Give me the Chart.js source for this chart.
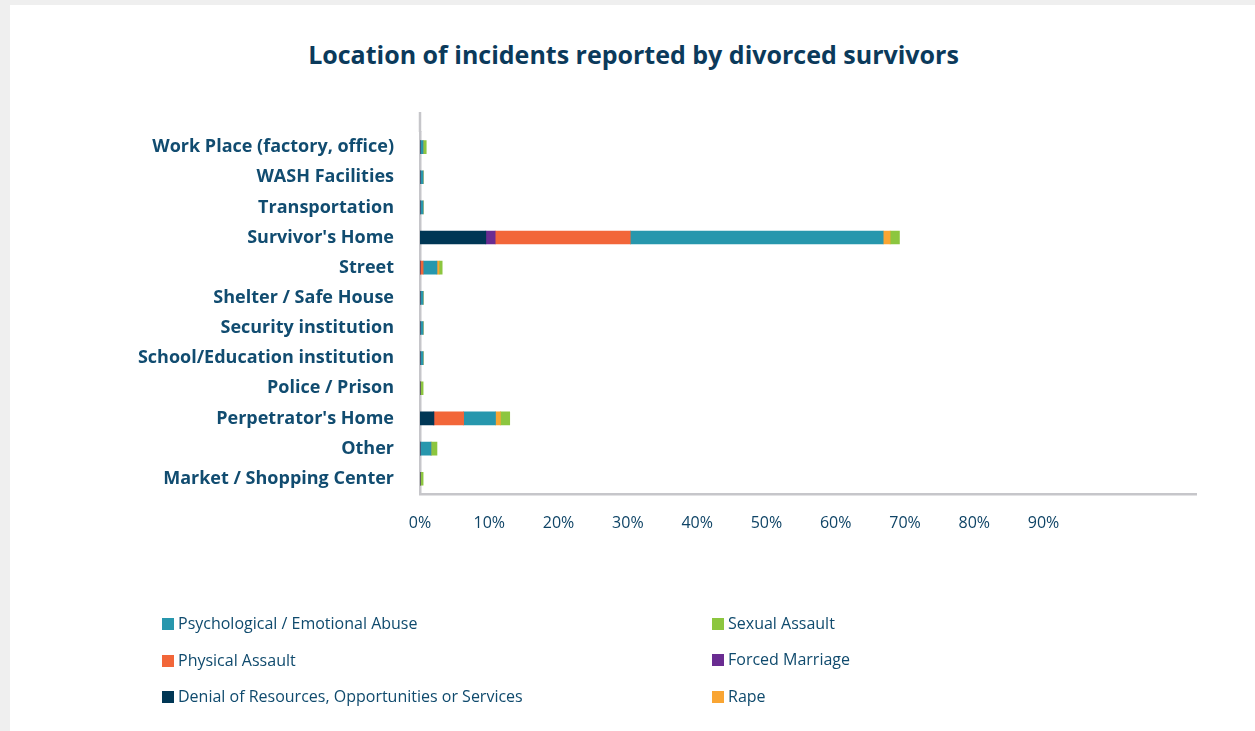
<!DOCTYPE html>
<html>
<head>
<meta charset="utf-8">
<script src="https://cdn.jsdelivr.net/npm/chart.js@4.4.1/dist/chart.umd.min.js"></script>
<style>
  html, body { margin: 0; padding: 0; background: #efefef; }
  #panel { position: absolute; left: 10px; top: 5px; width: 1245px; height: 726px; background: #fff; }
  #title { position: absolute; left: 6px; top: 37px; width: 1255px; text-align: center;
           font-family: "Open Sans", Lato, sans-serif; font-size: 25px; font-weight: bold; color: #0b3a5b;
           line-height: 34px; white-space: nowrap; }
  #wrap { position: absolute; left: 0; top: 0; width: 1255px; height: 560px; }
  #legend { position: absolute; left: 0; top: 0; width: 1255px; height: 731px; pointer-events: none;
            font-family: "Open Sans", Lato, sans-serif; font-size: 16px; color: #0f4a6d; }
  .item { position: absolute; height: 20px; line-height: 20px; white-space: nowrap; }
  .sq { display: inline-block; width: 12px; height: 12px; margin-right: 4px; vertical-align: -1px; }
</style>
</head>
<body>
<div id="panel"></div>
<div id="title">Location of incidents reported by divorced survivors</div>
<div id="wrap"><canvas id="myChart" width="1255" height="560"></canvas></div>
<div id="legend"></div>
<script>
// categories top to bottom
var categories = ["Work Place (factory, office)", "WASH Facilities", "Transportation", "Survivor's Home",
    "Street", "Shelter / Safe House", "Security institution", "School/Education institution",
    "Police / Prison", "Perpetrator's Home", "Other", "Market / Shopping Center"];

// percent of incidents, per type of violence
var denial   = [0, 0, 0, 9.5, 0, 0, 0, 0, 0, 2.0, 0, 0];
var forced   = [0, 0, 0, 1.35, 0, 0, 0, 0, 0, 0, 0, 0];
var physical = [0, 0, 0, 19.5, 0.45, 0, 0, 0, 0, 4.3, 0, 0];
var psych    = [0.45, 0.45, 0.45, 36.5, 2.0, 0.45, 0.45, 0.45, 0, 4.6, 1.6, 0];
var rape     = [0, 0, 0, 1.0, 0.3, 0, 0, 0, 0, 0.7, 0, 0];
var sexual   = [0.45, 0, 0, 1.35, 0.45, 0, 0, 0, 0.45, 1.35, 0.85, 0.45];

var xTicks = [0, 10, 20, 30, 40, 50, 60, 70, 80, 90];

var datasets = [
    { label: 'Denial of Resources, Opportunities or Services', data: denial, backgroundColor: '#003755' },
    { label: 'Forced Marriage', data: forced, backgroundColor: '#6a2c91' },
    { label: 'Physical Assault', data: physical, backgroundColor: '#f26639' },
    { label: 'Psychological / Emotional Abuse', data: psych, backgroundColor: '#2797ad' },
    { label: 'Rape', data: rape, backgroundColor: '#f9a533' },
    { label: 'Sexual Assault', data: sexual, backgroundColor: '#8cc63f' }
];
datasets.forEach(function (d) { d.barThickness = 13; d.borderWidth = 0; });

// the y axis line runs a bit above the first category
var axisTop = {
    id: 'axisTop',
    afterDraw: function (chart) {
        var ctx = chart.ctx, a = chart.chartArea;
        ctx.save();
        ctx.strokeStyle = '#c6c6ca';
        ctx.lineWidth = 2.5;
        ctx.beginPath();
        ctx.moveTo(a.left, a.top - 20);
        ctx.lineTo(a.left, a.top);
        ctx.stroke();
        ctx.restore();
    }
};

const ctx = document.getElementById('myChart');
const myChart = new Chart(ctx, {
    type: 'bar',
    data: { labels: categories, datasets: datasets },
    plugins: [axisTop],
    options: {
        indexAxis: 'y',
        responsive: false,
        animation: false,
        layout: { padding: { left: 0, right: 59, top: 132, bottom: 7 } },
        plugins: {
            legend: { display: false },
            tooltip: { enabled: false },
            title: { display: false }
        },
        scales: {
            x: {
                stacked: true,
                min: 0,
                max: 112,
                grid: { display: false, drawTicks: false },
                border: { display: true, color: '#c6c6ca', width: 2.5 },
                afterBuildTicks: function (scale) {
                    scale.ticks = xTicks.map(function (v) { return { value: v }; });
                },
                ticks: {
                    padding: 20,
                    color: '#0f4466',
                    font: { family: 'Open Sans', size: 16 },
                    maxRotation: 0,
                    autoSkip: false,
                    callback: function (v) { return v + '%'; }
                }
            },
            y: {
                stacked: true,
                grid: { display: false, drawTicks: false },
                border: { display: true, color: '#c6c6ca', width: 2.5 },
                afterFit: function (scale) { scale.width = 420; },
                ticks: {
                    padding: 26,
                    color: '#114c70',
                    font: { family: 'Open Sans', size: 18, weight: 'bold' },
                    autoSkip: false
                }
            }
        }
    }
});

// legend, two columns as in the original
var legendOrder = [
    ['Psychological / Emotional Abuse', 162, 613],
    ['Physical Assault', 162, 650],
    ['Denial of Resources, Opportunities or Services', 162, 686],
    ['Sexual Assault', 712, 613],
    ['Forced Marriage', 712, 649],
    ['Rape', 712, 686]
];
var leg = document.getElementById('legend');
legendOrder.forEach(function (it) {
    var ds = datasets.filter(function (d) { return d.label === it[0]; })[0];
    var el = document.createElement('div');
    el.className = 'item';
    el.style.left = it[1] + 'px';
    el.style.top = it[2] + 'px';
    el.innerHTML = '<span class="sq" style="background:' + ds.backgroundColor + '"></span>' + ds.label;
    leg.appendChild(el);
});
</script>
</body>
</html>
